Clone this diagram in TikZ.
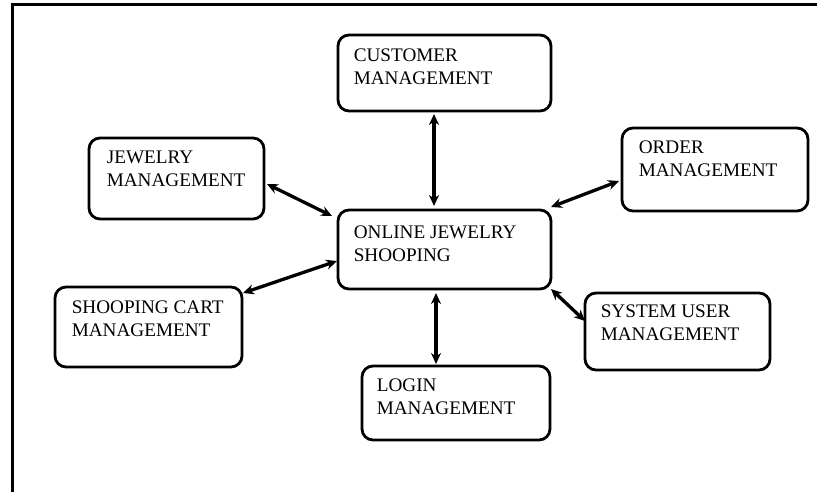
\documentclass[tikz,border=0pt]{standalone}
\usepackage{fontspec}
\setmainfont{Liberation Serif}
\usetikzlibrary{arrows.meta}
\begin{document}
\begin{tikzpicture}[x=1pt,y=-1pt,
  boxn/.style={draw,line width=2.8pt,rounded corners=11pt,inner sep=0pt},
  txt/.style={anchor=base west,align=left,inner sep=0pt,font=\fontsize{19.2}{22.5}\selectfont},
  link/.style={line width=3.3pt,{Stealth[length=11pt,width=10pt]}-{Stealth[length=11pt,width=10pt]}}]
\useasboundingbox (0,0) rectangle (817,492);
\coordinate (fa) at (12,492);
\coordinate (fb) at (12,5);
\coordinate (fc) at (817,5);
\draw[line width=3pt] (fa) -- (fb) -- (fc);
% boxes
\node[boxn,minimum width=213pt,minimum height=76pt] (cust) at (444.5,73) {};
\node[boxn,minimum width=175pt,minimum height=81pt] (jew) at (176.5,178.5) {};
\node[boxn,minimum width=186pt,minimum height=83pt] (ord) at (715,169.5) {};
\node[boxn,minimum width=213pt,minimum height=79pt] (cen) at (444.5,249.5) {};
\node[boxn,minimum width=187pt,minimum height=80pt] (cart) at (148.5,327) {};
\node[boxn,minimum width=185pt,minimum height=77pt] (sys) at (677.5,331.5) {};
\node[boxn,minimum width=188pt,minimum height=74pt] (log) at (456,403) {};
% texts (anchor at baseline of the last line)
\node[txt] (custt) at ([shift={(17,50.5)}]cust.north west) {CUSTOMER\\MANAGEMENT};
\node[txt] (jewt) at ([shift={(19,49.5)}]jew.north west) {JEWELRY\\MANAGEMENT};
\node[txt] (ordt) at ([shift={(18,49.5)}]ord.north west) {ORDER\\MANAGEMENT};
\node[txt] (cent) at ([shift={(17,52.5)}]cen.north west) {ONLINE JEWELRY\\SHOOPING};
\node[txt] (cartt) at ([shift={(18,50.5)}]cart.north west) {SHOOPING CART\\MANAGEMENT};
\node[txt] (syst) at ([shift={(17,48.5)}]sys.north west) {SYSTEM USER\\MANAGEMENT};
\node[txt] (logt) at ([shift={(16,49.5)}]log.north west) {LOGIN\\MANAGEMENT};
% connector end points
\coordinate (c1) at (434,114);
\coordinate (c2) at (434,206);
\coordinate (j1) at (267,184);
\coordinate (j2) at (332,216);
\coordinate (o1) at (619,181);
\coordinate (o2) at (551,207);
\coordinate (k1) at (243,293);
\coordinate (k2) at (337,261);
\coordinate (s1) at (551,289);
\coordinate (s2) at (585,321);
\coordinate (l1) at (436,293);
\coordinate (l2) at (436,364);
\draw[link] (c1) -- (c2);
\draw[link] (j1) -- (j2);
\draw[link] (o1) -- (o2);
\draw[link] (k1) -- (k2);
\draw[link] (s1) -- (s2);
\draw[link] (l1) -- (l2);
\end{tikzpicture}
\end{document}
